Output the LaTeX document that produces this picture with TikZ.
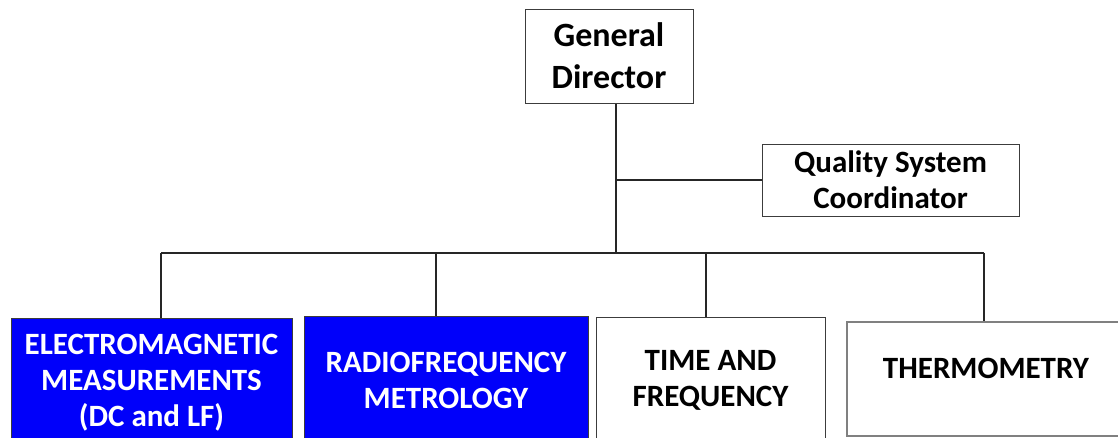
\documentclass[tikz,border=0pt]{standalone}
\usepackage{fontspec}
\setmainfont{Carlito}
\definecolor{boxblue}{RGB}{0,0,250}
\definecolor{edge}{RGB}{60,60,60}
\begin{document}
\begin{tikzpicture}[x=1pt,y=-1pt,
  box/.style={draw=edge, line width=1.2pt, rectangle, inner sep=0pt, anchor=north west},
  bluebox/.style={box, fill=boxblue},
  greybox/.style={draw=black!50, line width=2.4pt, rectangle, inner sep=0pt, anchor=north west},
  lbl/.style={align=center, inner sep=0pt, font=\fontsize{31}{36}\selectfont\bfseries},
  conn/.style={draw=black!85, line width=1.4pt}]
\useasboundingbox (0,0) rectangle (1118,438);
\clip (0,0) rectangle (1118,438);
% top boxes
\node[box, minimum width=168pt, minimum height=94pt] (gd) at (525,9) {};
\node[lbl, font=\fontsize{34}{42}\selectfont\bfseries] (gdt) at (609,56) {General\\Director};
\node[box, minimum width=257pt, minimum height=72pt] (qsc) at (762,144) {};
\node[lbl] (qsct) at (890.5,180) {Quality System\\Coordinator};
% bottom boxes
\node[bluebox, minimum width=281pt, minimum height=140pt] (emb) at (11,318) {};
\node[lbl, text=white] (emt) at (151.5,383) {ELECTROMAGNETIC\\MEASUREMENTS\\(DC and LF)};
\node[bluebox, minimum width=284pt, minimum height=140pt] (rfb) at (304,316) {};
\node[lbl, text=white] (rft) at (446,380) {RADIOFREQUENCY\\METROLOGY};
\node[box, fill=white, minimum width=229pt, minimum height=140pt] (tfb) at (596,317) {};
\node[lbl] (tft) at (710.5,380) {TIME AND\\FREQUENCY};
\node[greybox, fill=white, minimum width=290pt, minimum height=114pt] (thb) at (846,321) {};
\node[lbl] (tht) at (986,368) {THERMOMETRY};
% connectors
\coordinate (j) at (616,253);
\coordinate (q) at (616,180);
\coordinate (d1) at (161,253);
\coordinate (d2) at (436,253);
\coordinate (d3) at (706,253);
\coordinate (d4) at (984,253);
\draw[conn] (gd.south -| j) -- (j);
\draw[conn] (q) -- (q -| qsc.west);
\draw[conn] (d1) -- (d4);
\draw[conn] (d1) -- (d1 |- emb.north);
\draw[conn] (d2) -- (d2 |- rfb.north);
\draw[conn] (d3) -- (d3 |- tfb.north);
\draw[conn] (d4) -- (d4 |- thb.north);
\end{tikzpicture}
\end{document}
